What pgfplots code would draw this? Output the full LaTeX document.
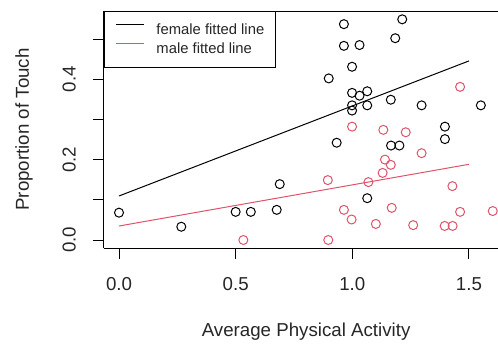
\documentclass[border=0pt]{standalone}
\usepackage{fontspec}
\setmainfont{Liberation Sans}
\usepackage{pgfplots}
\pgfplotsset{compat=1.18}
\definecolor{rred}{HTML}{DF536B}
\begin{document}
\begin{tikzpicture}
\begin{axis}[
  scale only axis, width=394pt, height=237pt,
  xmin=-0.0643, xmax=1.6245, ymin=-0.0199, ymax=0.5697,
  axis x line=box, axis y line=left,
  axis line style={-, line width=1pt, black},
  xtick={0,0.5,1,1.5}, xticklabels={0.0,0.5,1.0,1.5},
  ytick={0,0.1,0.2,0.3,0.4,0.5}, yticklabels={0.0,,0.2,,0.4,},
  xtick pos=left, ytick pos=left,
  tick align=outside, major tick length=11pt,
  tick style={line width=1pt, black},
  tick label style={font=\fontsize{18.7}{22}\selectfont, inner sep=0pt, text=black!85},
  xticklabel style={anchor=north}, xticklabel shift=18pt,
  yticklabel style={rotate=90, anchor=south}, yticklabel shift=17pt,
  label style={font=\fontsize{18.7}{22}\selectfont, inner sep=0pt, text=black!85},
  xlabel={Average Physical Activity}, ylabel={Proportion of Touch},
  xlabel style={at={(axis description cs:0.513,0)}, anchor=base, yshift=-88pt},
  ylabel style={at={(axis description cs:-0.1904,0.5)}, anchor=base},
  legend style={at={(axis description cs:0,1)}, anchor=north west, draw=black,
    line width=1pt, font=\fontsize{14.8}{17}\selectfont,
    inner xsep=11pt, inner ysep=12pt, row sep=7.4pt, column sep=12pt,
    nodes={inner sep=0pt, text=black!85}, cells={anchor=west}},
  legend image code/.code={\draw[#1, line width=1pt] (0pt,5.3pt) -- (28pt,5.3pt);},
]
\coordinate (sw) at (rel axis cs:0,0);
% female points
\addplot[only marks, mark=o, mark size=4.5pt, black, line width=1pt, forget plot] coordinates {
(0.000,0.068) (0.267,0.033) (0.500,0.070) (0.565,0.070) (0.676,0.075)
(0.689,0.139) (0.933,0.242) (0.899,0.402) (0.964,0.537) (0.964,0.483)
(1.031,0.485) (0.999,0.431) (0.999,0.366) (1.031,0.359) (1.064,0.370)
(0.999,0.335) (0.999,0.322) (1.064,0.335) (1.165,0.349) (1.214,0.549)
(1.184,0.502) (1.297,0.335) (1.551,0.335) (1.397,0.282) (1.397,0.251)
(1.166,0.235) (1.202,0.235) (1.064,0.104)
};
% male points
\addplot[only marks, mark=o, mark size=4.5pt, rred, line width=1pt, forget plot] coordinates {
(0.533,0.000) (0.897,0.000) (0.895,0.149) (0.964,0.075) (0.997,0.051)
(0.999,0.282) (1.069,0.144) (1.101,0.040) (1.133,0.274) (1.140,0.200)
(1.165,0.187) (1.130,0.167) (1.169,0.080) (1.229,0.268) (1.261,0.037)
(1.297,0.216) (1.396,0.035) (1.430,0.035) (1.429,0.134) (1.462,0.070)
(1.462,0.381) (1.602,0.072)
};
\addplot[black, line width=1pt, no marks] coordinates {(0,0.1095) (1.5,0.4455)};
\addlegendentry{female fitted line}
\addplot[rred, line width=1pt, no marks] coordinates {(0,0.0348) (1.5,0.1883)};
\addlegendentry{male fitted line}
\end{axis}
\pgfresetboundingbox
\path[use as bounding box] ([shift={(-104pt,-97pt)}]sw) rectangle ++(498pt,345pt);
\end{tikzpicture}
\end{document}
